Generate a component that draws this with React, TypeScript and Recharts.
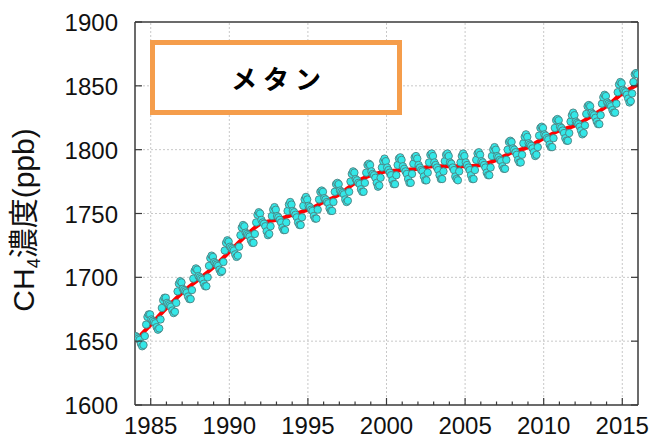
import React from 'react';
import { ComposedChart, Line, Scatter, XAxis, YAxis, ReferenceLine } from 'recharts';

// deseasonalized trend (red line), value at the start of each year
const trendYears = [
  1984, 1985, 1986, 1987, 1988, 1989, 1990, 1991, 1992, 1993, 1994, 1995, 1996, 1997, 1998, 1999, 2000,
  2001, 2002, 2003, 2004, 2005, 2006, 2007, 2008, 2009, 2010, 2011, 2012, 2013, 2014, 2015, 2016,
];
const trendValues = [
  1650, 1663, 1676, 1688, 1698, 1708, 1720, 1732, 1742, 1745, 1749, 1753, 1759, 1765, 1774, 1780, 1783,
  1784, 1785, 1787, 1787, 1787, 1788, 1792, 1798, 1802, 1809, 1815, 1819, 1826, 1834, 1844, 1851,
];

// monthly means (cyan points), Jan..Dec for each year
const monthYears = [
  1984, 1985, 1986, 1987, 1988, 1989, 1990, 1991, 1992, 1993, 1994, 1995, 1996, 1997, 1998, 1999,
  2000, 2001, 2002, 2003, 2004, 2005, 2006, 2007, 2008, 2009, 2010, 2011, 2012, 2013, 2014, 2015,
];
const monthValues = [
  [1654, 1653, 1652, 1651, 1648, 1646, 1647, 1654, 1663, 1669, 1671, 1671],
  [1667, 1666, 1665, 1664, 1661, 1659, 1660, 1667, 1676, 1682, 1684, 1684],
  [1680, 1679, 1678, 1677, 1674, 1672, 1673, 1680, 1689, 1695, 1697, 1696],
  [1691, 1690, 1689, 1688, 1685, 1683, 1683, 1690, 1699, 1705, 1707, 1706],
  [1701, 1700, 1699, 1698, 1695, 1693, 1693, 1700, 1709, 1715, 1717, 1716],
  [1712, 1711, 1710, 1709, 1706, 1704, 1705, 1712, 1721, 1727, 1729, 1728],
  [1724, 1723, 1722, 1721, 1718, 1716, 1717, 1724, 1733, 1739, 1741, 1740],
  [1735, 1734, 1733, 1732, 1729, 1727, 1727, 1734, 1743, 1749, 1751, 1750],
  [1745, 1743, 1742, 1740, 1736, 1733, 1734, 1740, 1748, 1753, 1755, 1753],
  [1748, 1747, 1745, 1743, 1739, 1737, 1737, 1743, 1752, 1757, 1759, 1757],
  [1752, 1751, 1749, 1747, 1743, 1741, 1741, 1747, 1756, 1761, 1763, 1761],
  [1756, 1755, 1753, 1752, 1748, 1746, 1746, 1753, 1761, 1767, 1768, 1767],
  [1762, 1761, 1759, 1758, 1754, 1752, 1752, 1759, 1767, 1773, 1774, 1773],
  [1768, 1767, 1766, 1765, 1761, 1759, 1760, 1767, 1775, 1781, 1783, 1782],
  [1777, 1776, 1774, 1773, 1769, 1767, 1767, 1774, 1782, 1788, 1789, 1788],
  [1783, 1781, 1780, 1778, 1774, 1771, 1772, 1778, 1786, 1791, 1793, 1791],
  [1786, 1784, 1782, 1780, 1776, 1773, 1773, 1780, 1788, 1793, 1794, 1792],
  [1787, 1785, 1783, 1781, 1777, 1774, 1774, 1781, 1789, 1794, 1795, 1793],
  [1788, 1786, 1784, 1783, 1779, 1776, 1776, 1782, 1790, 1796, 1797, 1795],
  [1790, 1788, 1786, 1784, 1780, 1777, 1777, 1783, 1791, 1796, 1797, 1795],
  [1790, 1789, 1786, 1784, 1779, 1777, 1776, 1783, 1790, 1795, 1797, 1795],
  [1790, 1788, 1786, 1784, 1780, 1777, 1777, 1784, 1792, 1797, 1798, 1796],
  [1791, 1790, 1788, 1786, 1782, 1780, 1780, 1786, 1795, 1800, 1802, 1800],
  [1795, 1794, 1792, 1791, 1787, 1785, 1785, 1792, 1800, 1806, 1807, 1806],
  [1801, 1800, 1798, 1796, 1792, 1790, 1790, 1796, 1805, 1810, 1812, 1810],
  [1805, 1804, 1803, 1801, 1798, 1795, 1796, 1802, 1811, 1817, 1818, 1817],
  [1812, 1811, 1809, 1808, 1804, 1802, 1802, 1809, 1817, 1823, 1824, 1823],
  [1818, 1817, 1815, 1813, 1809, 1807, 1807, 1813, 1822, 1827, 1829, 1827],
  [1822, 1821, 1820, 1818, 1815, 1812, 1813, 1819, 1828, 1834, 1835, 1834],
  [1829, 1828, 1827, 1825, 1822, 1820, 1820, 1827, 1836, 1841, 1843, 1842],
  [1837, 1836, 1835, 1834, 1831, 1829, 1829, 1836, 1845, 1851, 1853, 1852],
  [1847, 1846, 1845, 1843, 1840, 1837, 1838, 1844, 1853, 1859, 1860, 1859],
];

const xTicks = [
  1985, 1986, 1987, 1988, 1989, 1990, 1991, 1992, 1993, 1994, 1995, 1996, 1997, 1998, 1999, 2000,
  2001, 2002, 2003, 2004, 2005, 2006, 2007, 2008, 2009, 2010, 2011, 2012, 2013, 2014, 2015,
];
const xGrid = [1985, 1990, 1995, 2000, 2005, 2010, 2015];
const yTicks = [1600, 1650, 1700, 1750, 1800, 1850, 1900];
const yGrid = [1650, 1700, 1750, 1800, 1850];

const trendData = trendYears.map((x, i) => ({ x, y: trendValues[i] }));
const monthData = monthYears.flatMap((yr, i) =>
  monthValues[i].map((v, m) => ({ x: yr + (m + 0.5) / 12, y: v }))
);

const AXIS = '#3a3a3a';
const FONT = '"Liberation Sans", Arial, "Noto Sans CJK JP", sans-serif';

const BottomTick = (props: any) => {
  const { x, y, payload } = props;
  const major = payload.value % 5 === 0;
  return (
    <g>
      <line x1={x} x2={x} y1={y} y2={y - (major ? 7 : 3.5)} stroke={AXIS} strokeWidth={1.2} />
      {major && (
        <text x={x} y={y + 29} textAnchor="middle" fontSize={24} fill="#111" fontFamily={FONT}>
          {payload.value}
        </text>
      )}
    </g>
  );
};

const TopTick = (props: any) => {
  const { x, y, payload } = props;
  const major = payload.value % 5 === 0;
  return <line x1={x} x2={x} y1={y} y2={y + (major ? 7 : 3.5)} stroke={AXIS} strokeWidth={1.2} />;
};

const LeftTick = (props: any) => {
  const { x, y, payload } = props;
  return (
    <g>
      <line x1={x} x2={x + 7} y1={y} y2={y} stroke={AXIS} strokeWidth={1.2} />
      <text x={x - 17} y={y + 9} textAnchor="end" fontSize={24} fill="#111" fontFamily={FONT}>
        {payload.value}
      </text>
    </g>
  );
};

const RightTick = (props: any) => {
  const { x, y } = props;
  return <line x1={x} x2={x - 7} y1={y} y2={y} stroke={AXIS} strokeWidth={1.2} />;
};

const Dot = (props: any) => (
  <circle cx={props.cx} cy={props.cy} r={3.7} fill="#33e8e8" stroke="#4d8080" strokeWidth={0.9} />
);

export default function App() {
  return (
    <div style={{ position: 'absolute', left: 0, top: 0, width: 658, height: 439, background: '#fff' }}>
      <ComposedChart width={658} height={439} margin={{ top: 21, right: 19, bottom: 0, left: 0 }}>
        <XAxis
          dataKey="x"
          type="number"
          domain={[1984, 2016]}
          ticks={xTicks}
          interval={0}
          height={34}
          tickSize={0}
          tickMargin={0}
          tickLine={false}
          tick={<BottomTick />}
          axisLine={{ stroke: AXIS, strokeWidth: 1.5 }}
          allowDataOverflow
        />
        <XAxis
          xAxisId="top"
          orientation="top"
          type="number"
          domain={[1984, 2016]}
          ticks={xTicks}
          interval={0}
          height={1}
          tickSize={0}
          tickMargin={0}
          tickLine={false}
          tick={<TopTick />}
          axisLine={{ stroke: AXIS, strokeWidth: 1.5 }}
          allowDataOverflow
        />
        <YAxis
          dataKey="y"
          type="number"
          domain={[1600, 1900]}
          ticks={yTicks}
          interval={0}
          width={135}
          tickSize={0}
          tickMargin={0}
          tickLine={false}
          tick={<LeftTick />}
          axisLine={{ stroke: AXIS, strokeWidth: 1.5 }}
          allowDataOverflow
        />
        <YAxis
          yAxisId="right"
          orientation="right"
          type="number"
          domain={[1600, 1900]}
          ticks={yTicks}
          interval={0}
          width={1}
          tickSize={0}
          tickMargin={0}
          tickLine={false}
          tick={<RightTick />}
          axisLine={{ stroke: AXIS, strokeWidth: 1.5 }}
          allowDataOverflow
        />
        {xGrid.map((v) => (
          <ReferenceLine key={'gx' + v} x={v} stroke="#c8c8c8" strokeDasharray="2 2" />
        ))}
        {yGrid.map((v) => (
          <ReferenceLine key={'gy' + v} y={v} stroke="#c8c8c8" strokeDasharray="2 2" />
        ))}
        <Line
          data={trendData}
          dataKey="y"
          type="monotone"
          stroke="#ff0000"
          strokeWidth={4}
          dot={false}
          isAnimationActive={false}
        />
        <Scatter data={monthData} dataKey="y" shape={<Dot />} isAnimationActive={false} />
      </ComposedChart>

      <div
        style={{
          position: 'absolute',
          left: 150,
          top: 40,
          width: 252,
          height: 75,
          boxSizing: 'border-box',
          border: '5px solid #f59d4b',
          background: '#fff',
          display: 'flex',
          alignItems: 'center',
          justifyContent: 'center',
          fontFamily: '"Noto Sans CJK JP", sans-serif',
          fontWeight: 700,
          fontSize: 26,
          letterSpacing: 6,
          paddingLeft: 6,
          color: '#000',
        }}
      >
        メタン
      </div>

      <div
        style={{
          position: 'absolute',
          left: 24,
          top: 220,
          transform: 'translate(-50%, -50%) rotate(-90deg)',
          whiteSpace: 'nowrap',
          fontFamily: FONT,
          fontSize: 30,
          color: '#111',
          lineHeight: 1,
        }}
      >
        CH<span style={{ fontSize: 18, position: 'relative', top: 6 }}>4</span>濃度(ppb)
      </div>
    </div>
  );
}
